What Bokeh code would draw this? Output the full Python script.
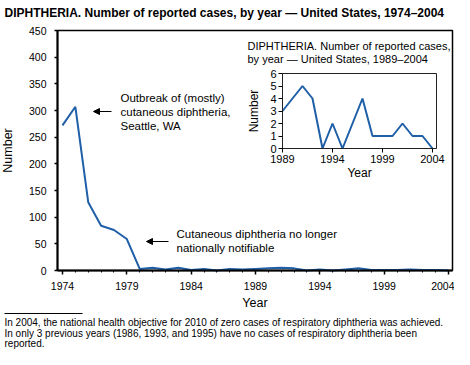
from bokeh.plotting import figure
from bokeh.models import Range1d, FixedTicker, Label, Arrow, NormalHead, LinearAxis
from bokeh.core.properties import value
from bokeh.embed import file_html
from bokeh.resources import INLINE

# ---- data ----
years = list(range(1974, 2005))
cases = [272, 307, 128, 84, 76, 59, 3, 5, 2, 5, 1, 3, 0, 3, 2,
         3, 4, 5, 4, 0, 2, 0, 2, 4, 1, 1, 1, 2, 1, 1, 0]
x_ticks = [1974, 1979, 1984, 1989, 1994, 1999, 2004]
y_ticks = [0, 50, 100, 150, 200, 250, 300, 350, 400, 450]

inset_years = list(range(1989, 2005))
inset_cases = [3, 4, 5, 4, 0, 2, 0, 2, 4, 1, 1, 1, 2, 1, 1, 0]
inset_x_ticks = [1989, 1994, 1999, 2004]
inset_y_ticks = [0, 1, 2, 3, 4, 5, 6]

title_text = "DIPHTHERIA. Number of reported cases, by year \u2014 United States, 1974\u20132004"
inset_title = ["DIPHTHERIA. Number of reported cases,",
               "by year \u2014 United States, 1989\u20132004"]
note1 = ["Outbreak of (mostly)", "cutaneous diphtheria,", "Seattle, WA"]
note2 = ["Cutaneous diphtheria no longer", "nationally notifiable"]
footnote = ["In 2004, the national health objective for 2010 of zero cases of respiratory diphtheria was achieved.",
            "In only 3 previous years (1986, 1993, and 1995) have no cases of respiratory diphtheria been",
            "reported."]

FONT = "Liberation Sans"
BLUE = "#1f5fa8"
W, H = 454, 349

# ---- pixel layout of the main plot (canvas px) ----
ML, MR, MT, MB = 57, 452, 30, 270
X0PX, XPPY = 62, 12.867          # first year position, px per year
YPPU = (MB - MT) / y_ticks[-1]   # px per case


def MX(px):
    return years[0] + (px - X0PX) / XPPY


def MY(py):
    return (MB - py) / YPPU


# ---- inset layout (canvas px) ----
IL, IR, IT, IB = 282, 436, 73, 148
IXPPY, IYPPU = 10.0, 12.5


def IX(px):
    return inset_years[0] + (px - IL) / IXPPY


def IY(py):
    return (IB - py) / IYPPU


p = figure(width=W, height=H, output_backend="svg", toolbar_location=None,
           title=None, x_axis_location=None, y_axis_location=None,
           x_range=Range1d(MX(0), MX(W)), y_range=Range1d(MY(H), MY(0)),
           min_border=0, min_border_left=0, min_border_right=0,
           min_border_top=0, min_border_bottom=0)
p.xgrid.visible = False
p.ygrid.visible = False
p.outline_line_color = None
p.background_fill_color = "white"
p.border_fill_color = "white"
p.extra_x_ranges = {"ix": Range1d(IX(0), IX(W))}
p.extra_y_ranges = {"iy": Range1d(IY(H), IY(0))}


def style_axis(ax, tick_size, label_size):
    ax.axis_line_color = "black"
    ax.major_tick_line_color = "black"
    ax.minor_tick_line_color = "black"
    ax.major_tick_in = 0
    ax.minor_tick_in = 0
    ax.major_label_text_font = FONT
    ax.major_label_text_font_size = tick_size
    ax.major_label_text_color = "black"
    ax.axis_label_text_font = FONT
    ax.axis_label_text_font_size = label_size
    ax.axis_label_text_font_style = "normal"
    ax.axis_label_text_color = "black"


# main box (top/right edges)
p.quad(left=[MX(ML)], right=[MX(MR)], bottom=[MY(MB)], top=[MY(MT)],
       fill_color=None, line_color="black", line_width=1.5)

# main axes
xax = LinearAxis(fixed_location=MY(MB), bounds=(MX(ML), MX(MR)),
                 ticker=FixedTicker(ticks=x_ticks, minor_ticks=years),
                 axis_label="Year")
style_axis(xax, "10.5px", "12.5px")
xax.axis_line_width = 2
xax.major_tick_line_width = 1.5
xax.major_tick_out = 4
xax.minor_tick_out = 2
xax.major_label_standoff = 7
xax.axis_label_standoff = 3
p.add_layout(xax, "below")

yax = LinearAxis(fixed_location=MX(ML), bounds=(y_ticks[0], y_ticks[-1]),
                 ticker=FixedTicker(ticks=y_ticks), axis_label="Number")
style_axis(yax, "10.5px", "12.5px")
yax.axis_line_width = 2
yax.major_tick_line_width = 1.5
yax.major_tick_out = 3
yax.minor_tick_out = 0
yax.major_label_standoff = 8
yax.axis_label_standoff = 11
p.add_layout(yax, "left")

# main line
p.line(years, cases, line_color=BLUE, line_width=2)

# ---- inset ----
p.quad(left=[IX(IL)], right=[IX(IR)], bottom=[IY(IB)], top=[IY(IT)],
       fill_color="white", line_color="#222222", line_width=1,
       x_range_name="ix", y_range_name="iy")
p.line(inset_years, inset_cases, line_color=BLUE, line_width=2,
       x_range_name="ix", y_range_name="iy")

ixax = LinearAxis(x_range_name="ix", y_range_name="iy", fixed_location=IY(IB),
                  bounds=(IX(IL), IX(IR)), ticker=FixedTicker(ticks=inset_x_ticks),
                  axis_label="Year")
style_axis(ixax, "11px", "12px")
ixax.axis_line_color = "#222222"
ixax.major_tick_out = 4
ixax.minor_tick_out = 0
ixax.major_label_standoff = 2
ixax.axis_label_standoff = 0
p.add_layout(ixax, "below")

iyax = LinearAxis(x_range_name="ix", y_range_name="iy", fixed_location=IX(IL),
                  bounds=(IY(IB), IY(IT)), ticker=FixedTicker(ticks=inset_y_ticks),
                  axis_label="Number")
style_axis(iyax, "11px", "12px")
iyax.axis_line_color = "#222222"
iyax.major_tick_out = 4
iyax.minor_tick_out = 0
iyax.major_label_standoff = 2
iyax.axis_label_standoff = 6
p.add_layout(iyax, "left")


def label(px, py, txt, size, align="left", style="normal"):
    p.add_layout(Label(x=MX(px), y=MY(py), text=txt, text_font=FONT,
                       text_font_size=size, text_align=align, text_baseline="middle",
                       text_font_style=style, text_color="black"))


label(247, 45, inset_title[0], "11px")
label(247, 58, inset_title[1], "11px")

# ---- annotations ----
for i, t in enumerate(note1):
    label(120, 97 + 14 * i, t, "11.5px")
for i, t in enumerate(note2):
    label(176, 233 + 14 * i, t, "11.5px")

p.add_layout(Arrow(end=NormalHead(size=6, fill_color="black", line_color="black", line_width=1),
                   x_start=MX(111), y_start=MY(111), x_end=MX(93), y_end=MY(111),
                   line_color="black", line_width=1))
p.add_layout(Arrow(end=NormalHead(size=6, fill_color="black", line_color="black", line_width=1),
                   x_start=MX(168), y_start=MY(241), x_end=MX(146), y_end=MY(241),
                   line_color="black", line_width=1))

# ---- title and footnote ----
label(4, 12, title_text, "12px", style="bold")
p.segment(x0=[MX(4)], y0=[MY(313)], x1=[MX(82)], y1=[MY(313)],
          line_color="black", line_width=1)
for i, t in enumerate(footnote):
    label(4, 322 + 10.5 * i, t, "10px")

open("out.html", "w").write(file_html(p, INLINE))
